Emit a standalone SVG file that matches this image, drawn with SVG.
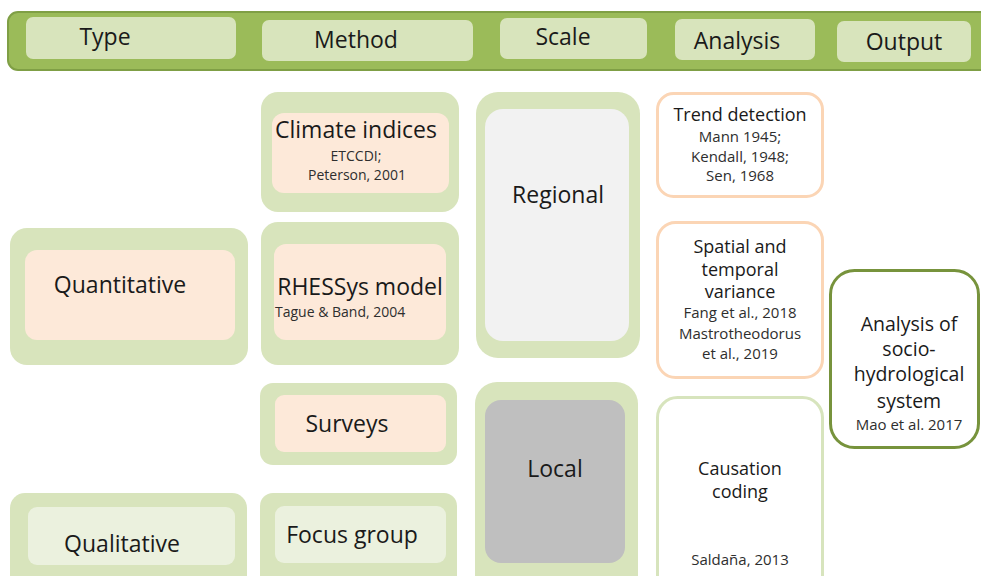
<svg xmlns="http://www.w3.org/2000/svg" width="981" height="576" viewBox="0 0 981 576">
  <style>
    text { font-family: "Open Sans", "Noto Sans", "Liberation Sans", sans-serif; fill: #1a1a1a; text-anchor: middle; }
    .hd { font-size: 23px; }
    .big { font-size: 23px; }
    .mid { font-size: 18px; }
    .out { font-size: 19.5px; }
    .ref { font-size: 14px; fill: #2e2e2e; }
    .ref15 { font-size: 15px; fill: #2e2e2e; }
    .outer { fill: #d8e4bc; }
    .peach { fill: #fde9d9; }
    .pale { fill: #ebf1de; }
    .hbox { fill: #d8e4bc; }
    .card { fill: #ffffff; stroke-width: 3; }
  </style>

  <!-- header band -->
  <g id="header">
    <rect x="8" y="12" width="990" height="58" rx="10" fill="#9bbb59" stroke="#7f9f45" stroke-width="2"/>
    <rect class="hbox" x="26" y="17" width="210" height="42" rx="7"/>
    <text class="hd" x="105" y="45">Type</text>
    <rect class="hbox" x="262" y="20" width="211" height="41" rx="7"/>
    <text class="hd" x="356" y="48">Method</text>
    <rect class="hbox" x="500" y="18" width="147" height="41" rx="7"/>
    <text class="hd" x="563" y="45">Scale</text>
    <rect class="hbox" x="675" y="19" width="140" height="41" rx="7"/>
    <text class="hd" x="737" y="49">Analysis</text>
    <rect class="hbox" x="837" y="21" width="134" height="41" rx="7"/>
    <text class="hd" x="904" y="50">Output</text>
  </g>

  <!-- type column -->
  <g id="quantitative">
    <rect class="outer" x="10" y="228" width="238" height="137" rx="17"/>
    <rect class="peach" x="25" y="250" width="210" height="90" rx="12"/>
    <text class="big" x="120" y="293">Quantitative</text>
  </g>
  <g id="qualitative">
    <rect class="outer" x="10" y="493" width="237" height="100" rx="15"/>
    <rect class="pale" x="28" y="507" width="207" height="58" rx="9"/>
    <text class="big" x="122" y="552">Qualitative</text>
  </g>

  <!-- method column -->
  <g id="climate-indices">
    <rect class="outer" x="261" y="92" width="198" height="120" rx="17"/>
    <rect class="peach" x="272" y="113" width="177" height="80" rx="12"/>
    <text class="big" x="356" y="138">Climate indices</text>
    <text class="ref" x="356" y="161">ETCCDI;</text>
    <text class="ref" x="357" y="180">Peterson, 2001</text>
  </g>
  <g id="rhessys">
    <rect class="outer" x="261" y="222" width="198" height="143" rx="17"/>
    <rect class="peach" x="274" y="244" width="172" height="96" rx="12"/>
    <text class="big" x="360" y="295">RHESSys model</text>
    <text class="ref" x="275" y="317" style="text-anchor:start">Tague &amp; Band, 2004</text>
  </g>
  <g id="surveys">
    <rect class="outer" x="260" y="383" width="197" height="82" rx="13"/>
    <rect class="peach" x="275" y="395" width="171" height="57" rx="9"/>
    <text class="big" x="347" y="432">Surveys</text>
  </g>
  <g id="focus-group">
    <rect class="outer" x="260" y="493" width="197" height="100" rx="13"/>
    <rect class="pale" x="275" y="506" width="171" height="57" rx="9"/>
    <text class="big" x="352" y="543">Focus group</text>
  </g>

  <!-- scale column -->
  <g id="regional">
    <rect class="outer" x="476" y="92" width="164" height="266" rx="22"/>
    <rect x="485" y="109" width="144" height="232" rx="18" fill="#f2f2f2"/>
    <text class="big" x="558" y="203">Regional</text>
  </g>
  <g id="local">
    <rect class="outer" x="475" y="382" width="163" height="220" rx="22"/>
    <rect x="485" y="400" width="140" height="163" rx="16" fill="#bfbfbf"/>
    <text class="big" x="555" y="477">Local</text>
  </g>

  <!-- analysis column -->
  <g id="trend-detection">
    <rect class="card" x="657.5" y="93.5" width="165" height="103" rx="16" stroke="#fbd5b5"/>
    <text class="mid" x="740" y="121">Trend detection</text>
    <text class="ref15" x="740" y="142">Mann 1945;</text>
    <text class="ref15" x="740" y="162">Kendall, 1948;</text>
    <text class="ref15" x="740" y="181">Sen, 1968</text>
  </g>
  <g id="spatial-temporal">
    <rect class="card" x="657.5" y="222.5" width="165" height="155" rx="18" stroke="#fbd5b5"/>
    <text class="mid" x="740" y="253">Spatial and</text>
    <text class="mid" x="740" y="276">temporal</text>
    <text class="mid" x="740" y="298">variance</text>
    <text class="ref15" x="740" y="318">Fang et al., 2018</text>
    <text class="ref15" x="740" y="339">Mastrotheodorus</text>
    <text class="ref15" x="740" y="359">et al., 2019</text>
  </g>
  <g id="causation-coding">
    <rect class="card" x="657.5" y="397.5" width="165" height="200" rx="20" stroke="#d7e4bd"/>
    <text class="mid" x="740" y="475">Causation</text>
    <text class="mid" x="740" y="498">coding</text>
    <text class="ref15" x="740" y="565">Saldaña, 2013</text>
  </g>

  <!-- output column -->
  <g id="socio-hydrological">
    <rect class="card" x="830.5" y="270.5" width="148" height="177" rx="24" stroke="#77933c"/>
    <text class="out" x="909" y="331">Analysis of</text>
    <text class="out" x="909" y="356">socio-</text>
    <text class="out" x="909" y="381">hydrological</text>
    <text class="out" x="909" y="408">system</text>
    <text class="ref15" x="909" y="430">Mao et al. 2017</text>
  </g>

  <!-- no connectors are drawn between the columns -->
  <g id="connectors"/>
</svg>
